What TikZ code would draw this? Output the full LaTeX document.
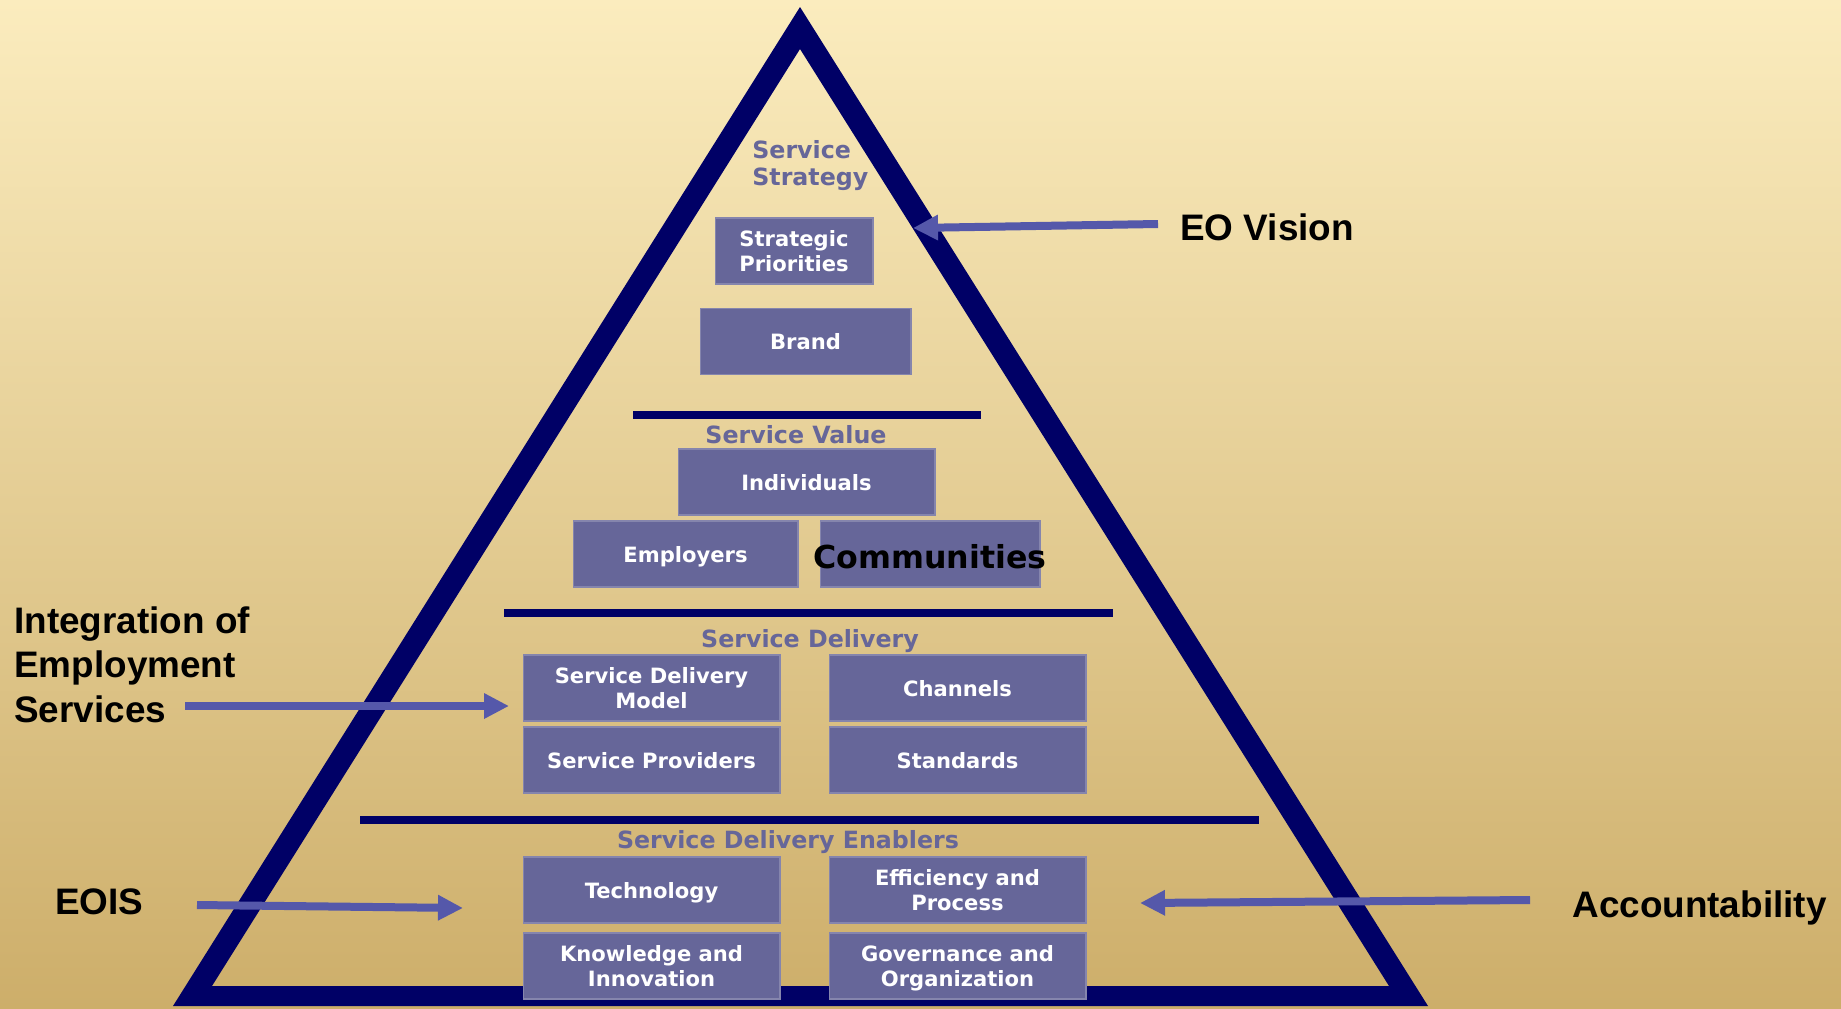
\documentclass[tikz,border=0pt]{standalone}
\usepackage{fontspec}
\setmainfont{DejaVu Sans}
\newfontfamily\sidefont{Liberation Sans}
\usetikzlibrary{arrows.meta}
\definecolor{navy}{RGB}{0,0,102}
\definecolor{slate}{RGB}{102,102,153}
\definecolor{arrowblue}{RGB}{85,88,170}
\definecolor{bgtop}{RGB}{251,236,190}
\definecolor{bgbot}{RGB}{205,174,106}
\begin{document}
\begin{tikzpicture}[x=0.02cm,y=-0.02cm]
	\tikzstyle{box}=[rectangle,fill=slate,draw=slate!80!white,line width=0.6pt,text=white,font=\bfseries\fontsize{12}{14.2}\selectfont,align=center,inner sep=0pt,minimum height=1.32cm,text depth=0pt]
	\tikzstyle{tier}=[text=slate,font=\bfseries\fontsize{13.5}{15.3}\selectfont,inner sep=0pt]
	\tikzstyle{sidetext}=[font=\sidefont\bfseries\fontsize{21}{25.5}\selectfont,align=left,inner sep=0pt]
	\tikzstyle{pointer}=[draw=arrowblue,line width=0.16cm,-{Triangle[length=0.5cm,width=0.48cm]}]
	\tikzstyle{divider}=[draw=navy,line width=0.16cm]

	\useasboundingbox (0,0) rectangle (1841,1008);
	\shade[top color=bgtop,bottom color=bgbot] (0,0) rectangle (1841,1008);

	\fill[navy,even odd rule] (800,7) -- (1428,1006) -- (173,1006) -- cycle
		(800,49) -- (1389,986) -- (212,986) -- cycle;

	\draw[divider] (633,414.5) -- (981,414.5);
	\draw[divider] (504,613) -- (1113,613);
	\draw[divider] (360,820) -- (1259,820);

	\node [tier,anchor=north west,align=left] (strategy) at (752,140) {Service\\Strategy};
	\node [box,minimum width=3.16cm] (priorities) at (794,251) {Strategic\\Priorities};
	\node [box,minimum width=4.22cm] (brand) at (805.5,341.5) {Brand};

	\node [tier,anchor=base] (value) at (796,443) {Service Value};
	\node [box,minimum width=5.14cm] (individuals) at (806.5,482) {Individuals};
	\node [box,minimum width=4.5cm] (employers) at (685.5,554) {Employers};
	\node [box,minimum width=4.4cm] (communities) at (930,554) {};
	\node [font=\bfseries\fontsize{18}{20}\selectfont,inner sep=0pt] (communitiestext) at ([yshift=-0.05cm]communities.center) {Communities};

	\node [tier,anchor=base] (delivery) at (810,647) {Service Delivery};
	\node [box,minimum width=5.14cm] (model) at (651.5,688) {Service Delivery\\Model};
	\node [box,minimum width=5.14cm] (channels) at (957.5,688) {Channels};
	\node [box,minimum width=5.14cm] (providers) at (651.5,760) {Service Providers};
	\node [box,minimum width=5.14cm] (standards) at (957.5,760) {Standards};

	\node [tier,anchor=base] (enablers) at (788,848) {Service Delivery Enablers};
	\node [box,minimum width=5.14cm] (technology) at (651.5,890) {Technology};
	\node [box,minimum width=5.14cm] (efficiency) at (957.5,890) {Efficiency and\\Process};
	\node [box,minimum width=5.14cm] (knowledge) at (651.5,966) {Knowledge and\\Innovation};
	\node [box,minimum width=5.14cm] (governance) at (957.5,966) {Governance and\\Organization};

	\node [sidetext,anchor=base west] (vision) at (1180,240) {EO Vision};
	\node [sidetext,anchor=north west] (integration) at (14,606) {Integration of\\Employment\\Services};
	\node [sidetext,anchor=base west] (eois) at (55,914) {EOIS};
	\node [sidetext,anchor=base west] (accountability) at (1572,917) {Accountability};

	\coordinate (visiontail) at (1158,224);
	\coordinate (visiontip) at (913,228);
	\coordinate (integrationtail) at (185,706);
	\coordinate (integrationtip) at (509,706);
	\coordinate (eoistail) at (197,905);
	\coordinate (eoistip) at (463,908);
	\coordinate (accounttail) at (1530,900);
	\coordinate (accounttip) at (1140,903);

	\path[pointer] (visiontail) -- (visiontip);
	\path[pointer] (integrationtail) -- (integrationtip);
	\path[pointer] (eoistail) -- (eoistip);
	\path[pointer] (accounttail) -- (accounttip);

\end{tikzpicture}
\end{document}
